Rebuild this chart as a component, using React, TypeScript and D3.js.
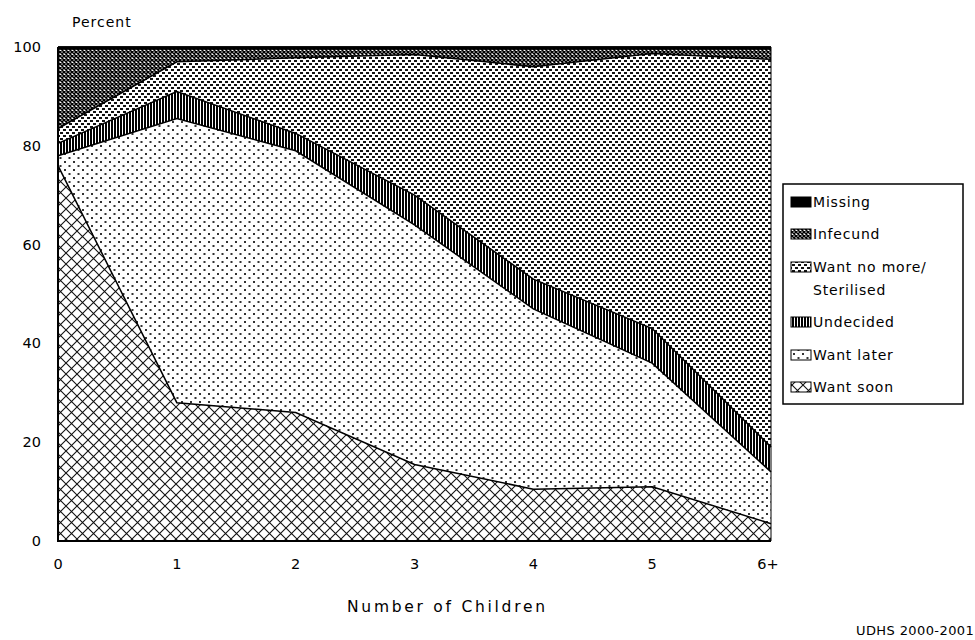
import React from "react";
import * as d3 from "d3";

// Number of living children vs. fertility preference (percent)
const categories = ["0", "1", "2", "3", "4", "5", "6+"];
const wantSoon = [76, 28, 26, 15.5, 10.5, 11, 3.5];
const wantLater = [2, 57.5, 53, 48.5, 36.5, 25, 10.5];
const undecided = [2.5, 5.5, 3.5, 6, 6, 7, 5];
const wantNoMore = [3, 6, 15.3, 28.5, 43, 55.7, 78.5];
const infecund = [16.1, 2.6, 1.8, 1.1, 3.6, 0.9, 2.1];
const missing = [0.4, 0.4, 0.4, 0.4, 0.4, 0.4, 0.4];
const yTicks = [0, 20, 40, 60, 80, 100];

const keys = ["wantSoon", "wantLater", "undecided", "wantNoMore", "infecund", "missing"];
const legendItems = [
  { key: "missing", lines: ["Missing"] },
  { key: "infecund", lines: ["Infecund"] },
  { key: "wantNoMore", lines: ["Want no more/", "Sterilised"] },
  { key: "undecided", lines: ["Undecided"] },
  { key: "wantLater", lines: ["Want later"] },
  { key: "wantSoon", lines: ["Want soon"] },
];

const W = 975;
const H = 640;
const left = 58;
const right = 771;
const top = 47;
const bottom = 541;
const font = "'DejaVu Sans', sans-serif";

export default function App() {
  const rows = categories.map((c, i) => ({
    cat: c,
    wantSoon: wantSoon[i],
    wantLater: wantLater[i],
    undecided: undecided[i],
    wantNoMore: wantNoMore[i],
    infecund: infecund[i],
    missing: missing[i],
  }));
  const series = d3.stack<any>().keys(keys)(rows);

  const x = d3.scalePoint().domain(categories).range([left, right]);
  const y = d3.scaleLinear().domain([0, 100]).range([bottom, top]);

  const area = d3
    .area<any>()
    .x((d) => x(d.data.cat) as number)
    .y0((d) => y(d[0]))
    .y1((d) => y(d[1]));
  const line = d3
    .line<any>()
    .x((d) => x(d.data.cat) as number)
    .y((d) => y(d[1]));

  const legendRowY = [202, 234, 267, 322, 355, 387];

  return (
    <svg
      width={W}
      height={H}
      style={{ position: "absolute", left: 0, top: 0, background: "#fff" }}
      fontFamily={font}
    >
      <defs>
        <pattern id="p-missing" width="4" height="4" patternUnits="userSpaceOnUse">
          <rect width="4" height="4" fill="#000" />
        </pattern>
        <pattern id="p-infecund" width="4" height="4" patternUnits="userSpaceOnUse">
          <rect width="4" height="4" fill="#fff" />
          <path d="M0,0L4,4M4,0L0,4" stroke="#000" strokeWidth="1.5" />
        </pattern>
        <pattern id="p-wantNoMore" width="6" height="6" patternUnits="userSpaceOnUse">
          <rect width="6" height="6" fill="#fff" />
          <rect x="0" y="0" width="3" height="2" fill="#111" />
          <rect x="3" y="3" width="3" height="2" fill="#111" />
        </pattern>
        <pattern id="p-undecided" width="3" height="4" patternUnits="userSpaceOnUse">
          <rect width="3" height="4" fill="#fff" />
          <rect x="0" y="0" width="2" height="4" fill="#000" />
        </pattern>
        <pattern id="p-wantLater" width="9" height="8" patternUnits="userSpaceOnUse">
          <rect width="9" height="8" fill="#fff" />
          <rect x="1" y="1" width="2" height="2" fill="#333" />
          <rect x="5.5" y="5" width="2" height="2" fill="#333" />
        </pattern>
        <pattern id="p-wantSoon" width="11" height="11" patternUnits="userSpaceOnUse">
          <rect width="11" height="11" fill="#fff" />
          <path d="M0,0L11,11M11,0L0,11" stroke="#111" strokeWidth="1.1" />
        </pattern>
      </defs>

      {series.map((s) => (
        <path key={s.key} d={area(s) || ""} fill={`url(#p-${s.key})`} />
      ))}
      {series.map((s) => (
        <path key={s.key + "-l"} d={line(s) || ""} fill="none" stroke="#000" strokeWidth={1.5} />
      ))}

      {/* frame */}
      <line x1={left} x2={left} y1={top} y2={bottom + 1} stroke="#000" strokeWidth={2} />
      <line x1={left} x2={right} y1={bottom} y2={bottom} stroke="#000" strokeWidth={2} />
      <line x1={left} x2={right} y1={top} y2={top} stroke="#000" strokeWidth={1.5} />
      <line x1={right} x2={right} y1={top} y2={bottom} stroke="#000" strokeWidth={1} />

      {/* y axis labels */}
      {yTicks.map((t) => (
        <text key={t} x={41} y={y(t) + 5} textAnchor="end" fontSize={14.5} fill="#000">
          {t}
        </text>
      ))}
      <text x={72} y={27} fontSize={14} letterSpacing={1} fill="#000">
        Percent
      </text>

      {/* x axis labels */}
      {categories.map((c) => (
        <text key={c} x={(x(c) as number) - (c === "6+" ? 3 : 0)} y={569} textAnchor="middle" fontSize={14.5} fill="#000">
          {c}
        </text>
      ))}
      <text x={347} y={612} fontSize={15.5} textLength={198} lengthAdjust="spacing" fill="#000">
        Number of Children
      </text>

      {/* legend */}
      <rect x={783} y={184} width={180} height={220} fill="#fff" stroke="#000" strokeWidth={1.5} />
      {legendItems.map((it, i) => (
        <g key={it.key}>
          <rect
            x={791}
            y={legendRowY[i] - 5}
            width={20}
            height={10}
            fill={`url(#p-${it.key})`}
            stroke="#000"
            strokeWidth={1}
          />
          {it.lines.map((l, j) => (
            <text key={j} x={813} y={legendRowY[i] + 5 + j * 23} fontSize={14} letterSpacing={0.8} fill="#000">
              {l}
            </text>
          ))}
        </g>
      ))}

      <text x={856} y={635} fontSize={13} letterSpacing={0.4} fill="#000">
        UDHS 2000-2001
      </text>
    </svg>
  );
}
